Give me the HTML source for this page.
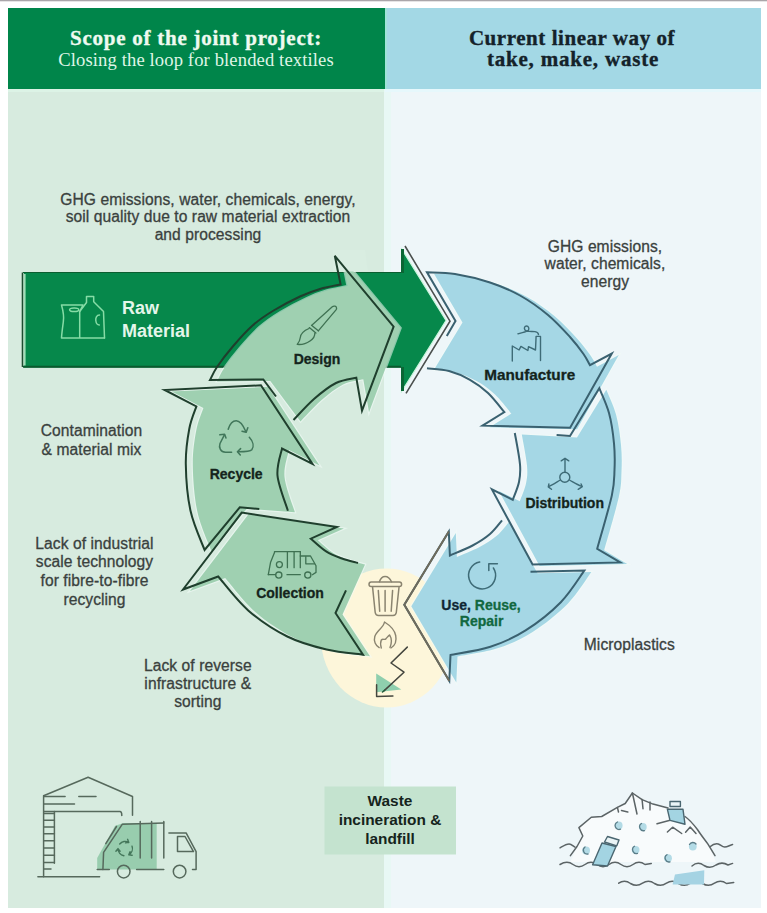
<!DOCTYPE html>
<html><head><meta charset="utf-8"><style>
html,body{margin:0;padding:0;background:#fff;width:767px;height:913px;overflow:hidden}
svg{display:block}
.t{font-family:'Liberation Sans',sans-serif;font-size:15.6px;letter-spacing:0.07px;fill:#3a413e;stroke:#3a413e;stroke-width:0.3px}
.lb{font-family:'Liberation Sans',sans-serif;font-size:14px;font-weight:bold;fill:#14241c;stroke:currentColor;stroke-width:0.3px;color:#14241c}
</style></head><body>
<svg width="767" height="913" viewBox="0 0 767 913">
<rect x="0" y="0" width="767" height="1.3" fill="#aaa6aa"/>
<!-- panels -->
<rect x="8" y="8" width="376" height="900" fill="#d7ebdf"/>
<rect x="384" y="8" width="377" height="900" fill="#eef6f9"/>
<rect x="384" y="89" width="7" height="819" fill="#e8f8f5"/>
<rect x="8" y="8" width="377" height="81" fill="#00854a"/>
<rect x="385" y="8" width="376" height="81" fill="#a3d8e5"/>
<rect x="385" y="8" width="2" height="81" fill="#9fe3d8"/>
<rect x="8" y="89" width="376" height="3" fill="#dcf3e6"/>
<rect x="385" y="89" width="376" height="3" fill="#e6f8fc"/>
<!-- header text -->
<text x="196" y="45" text-anchor="middle" style="font-family:'Liberation Serif',serif;font-weight:bold;font-size:21px;letter-spacing:0.75px;stroke:#eefaf0;stroke-width:0.35px" fill="#eefaf0">Scope of the joint project:</text>
<text x="196" y="66" text-anchor="middle" style="font-family:'Liberation Serif',serif;font-size:18.6px;letter-spacing:0.12px" fill="#dff5e6">Closing the loop for blended textiles</text>
<text x="572" y="44.5" text-anchor="middle" style="font-family:'Liberation Serif',serif;font-weight:bold;font-size:21px;letter-spacing:0.55px;stroke:#14222a;stroke-width:0.35px" fill="#14222a">Current linear way of</text>
<text x="573" y="66" text-anchor="middle" style="font-family:'Liberation Serif',serif;font-weight:bold;font-size:21px;letter-spacing:0.8px;stroke:#14222a;stroke-width:0.35px" fill="#14222a">take, make, waste</text>
<!-- side texts -->
<g class="t" text-anchor="middle">
<text x="208" y="204.6" class="t">GHG emissions, water, chemicals, energy,</text>
<text x="208" y="222.2" class="t">soil quality due to raw material extraction</text>
<text x="208" y="240.2" class="t">and processing</text>
<text x="91.5" y="435.8" class="t">Contamination</text>
<text x="91.5" y="454.6" class="t">&amp; material mix</text>
<text x="94.5" y="548.5" class="t">Lack of industrial</text>
<text x="94.5" y="567.2" class="t">scale technology</text>
<text x="94.5" y="586" class="t">for fibre-to-fibre</text>
<text x="94.5" y="604.8" class="t">recycling</text>
<text x="197.8" y="670.5" class="t">Lack of reverse</text>
<text x="197.8" y="688.6" class="t">infrastructure &amp;</text>
<text x="197.8" y="706.6" class="t">sorting</text>
<text x="605" y="251.7" class="t">GHG emissions,</text>
<text x="605" y="269.3" class="t">water, chemicals,</text>
<text x="605" y="286.9" class="t">energy</text>
<text x="629.3" y="650" class="t">Microplastics</text>
</g>
<!-- yellow circle -->
<ellipse cx="386.5" cy="638" rx="65.5" ry="69.5" fill="#fdf6da"/>
<!-- raw material arrow -->
<path d="M24,273 L401,273 L401,248 L446,320.5 L401,392.5 L401,367.5 L24,367.5 Z" fill="#06884b"/>
<path d="M22.5,272.5 L22.5,367" fill="none" stroke="#1d4d30" stroke-width="1.6"/>
<path d="M23,272.5 L401,272.5" fill="none" stroke="#0b5e30" stroke-width="1.2"/>
<path d="M23,366.7 L401,366.7" fill="none" stroke="#0a5a2e" stroke-width="2"/>
<path d="M24.7,274 L24.7,365.5" fill="none" stroke="#9fe0b8" stroke-width="1.8"/>
<path d="M405,246 L450,321.2 L406,393.3" fill="none" stroke="#4a4f4d" stroke-width="1.6"/>
<path d="M401,248 L446,320.5 L401,392.5" fill="none" stroke="#c8f5da" stroke-width="1.2"/>
<path d="M402.5,249 L402.5,273 M402.5,367 L402.5,391" stroke="#0a6634" stroke-width="3"/>
<text x="122" y="313.5" style="font-family:'Liberation Sans',sans-serif;font-weight:bold;font-size:18px" fill="#e4f6ea">Raw</text>
<text x="122" y="337" style="font-family:'Liberation Sans',sans-serif;font-weight:bold;font-size:18px" fill="#e4f6ea">Material</text>
<!-- cycle arrows -->
<path d="M210.0,380.0 C211.2,377.8 213.2,372.6 217.0,367.0 C220.8,361.4 226.9,353.4 232.8,346.5 C238.7,339.6 245.8,331.5 252.6,325.5 C259.4,319.5 265.7,315.3 273.6,310.5 C281.5,305.7 292.3,300.1 300.0,296.5 C307.7,292.9 313.2,291.0 320.0,289.0 C326.8,287.0 337.2,285.2 340.6,284.5 L334.8,255.8 L393.6,326.6 L362.0,410.7 L356.3,377.7 C352.9,378.6 343.1,379.4 336.0,383.0 C328.9,386.6 321.1,392.8 314.0,399.0 C306.9,405.2 296.9,416.5 293.5,420.0 L263.3,379.4 Z" transform="translate(7,1.5)" fill="#9fd0b1" stroke="#f2fbf7" stroke-opacity="0.55" stroke-width="2.4" paint-order="stroke"/>
<path d="M164.7,390.0 L260.9,385.3 L312.5,463.9 L282.0,448.6 C281.2,453.1 276.5,465.2 277.5,475.6 C278.5,486.0 286.2,504.9 287.9,510.8 L239.8,507.3 L204.6,550.0 C202.2,543.5 193.6,525.1 190.5,510.8 C187.4,496.4 186.0,477.6 185.8,463.9 C185.6,450.2 187.5,438.3 189.3,428.7 C191.1,419.1 195.2,410.1 196.4,406.4 Z" transform="translate(7,1.5)" fill="#9fd0b1" stroke="#f2fbf7" stroke-opacity="0.55" stroke-width="2.4" paint-order="stroke"/>
<path d="M241.7,512.6 L336.9,527.0 L310.8,538.7 C313.4,540.9 321.3,548.4 326.5,551.7 C331.7,555.0 336.8,556.6 342.0,558.5 C347.2,560.4 355.3,562.2 358.0,563.0 L335.5,613.0 L363.0,654.7 C356.9,653.8 339.1,652.5 326.5,649.5 C313.9,646.5 300.4,643.0 287.3,636.5 C274.2,630.0 259.7,620.4 248.2,610.4 C236.7,600.4 223.2,582.1 218.2,576.5 L183.0,589.5 Z" transform="translate(7,1.5)" fill="#9fd0b1" stroke="#f2fbf7" stroke-opacity="0.55" stroke-width="2.4" paint-order="stroke"/>
<path d="M427.0,272.3 C431.7,272.6 444.5,272.3 455.0,274.0 C465.5,275.7 479.2,278.9 490.0,282.5 C500.8,286.1 510.3,290.1 520.0,295.5 C529.7,300.9 539.7,308.1 548.0,315.0 C556.3,321.9 564.1,330.5 570.0,337.0 C575.9,343.5 580.2,349.3 583.5,354.0 C586.8,358.7 588.9,363.3 590.0,365.2 L611.8,353.5 L570.1,427.8 L482.5,425.7 L504.4,412.1 C501.7,408.9 493.7,398.4 488.0,393.0 C482.3,387.6 476.5,383.5 470.0,379.8 C463.5,376.1 456.2,372.9 449.0,371.0 C441.8,369.1 430.7,368.8 427.0,368.3 L455.5,321.0 Z" transform="translate(7,1.5)" fill="#a5d7e5" stroke="#f2fbf7" stroke-opacity="0.55" stroke-width="2.4" paint-order="stroke"/>
<path d="M584.3,570.6 C580.4,575.9 570.6,592.2 560.8,602.2 C551.0,612.2 537.3,623.0 525.6,630.4 C513.9,637.8 502.9,642.7 490.4,646.8 C477.9,650.9 457.1,653.6 450.5,655.0 L449.3,680.9 L404.3,604.7 L448.8,531.5 L449.9,555.5 C453.7,553.8 465.9,549.1 472.6,545.5 C479.3,541.9 485.1,538.2 490.0,534.0 C494.9,529.8 500.0,522.7 502.0,520.4 L530.5,571.8 Z" transform="translate(7,1.5)" fill="#a5d7e5" stroke="#f2fbf7" stroke-opacity="0.55" stroke-width="2.4" paint-order="stroke"/>
<path d="M599.3,388.2 C600.9,392.3 606.5,403.8 609.0,413.0 C611.5,422.2 613.1,433.9 614.0,443.4 C614.9,452.9 614.9,461.3 614.5,470.0 C614.1,478.7 614.7,482.5 611.8,495.6 C608.9,508.7 599.6,539.9 597.2,548.8 L620.2,562.4 L532.6,564.5 L491.9,489.4 L512.8,499.8 C513.8,496.8 517.8,487.9 519.0,482.0 C520.2,476.1 520.7,472.5 520.0,464.3 C519.3,456.1 515.7,438.2 514.8,433.0 L570.0,436.0 Z" transform="translate(7,1.5)" fill="#a5d7e5" stroke="#f2fbf7" stroke-opacity="0.55" stroke-width="2.4" paint-order="stroke"/>
<path d="M333,250 L365,250 L368,271.6 L333,271.6 Z" fill="#d9ede1"/>
<path d="M276,396.5 L263.3,379.4 L210,380 C211.2,377.8 213.2,372.6 217.0,367.0 C220.8,361.4 226.9,353.4 232.8,346.5 C238.7,339.6 245.8,331.5 252.6,325.5 C259.4,319.5 265.7,315.3 273.6,310.5 C281.5,305.7 292.3,300.1 300.0,296.5 C307.7,292.9 313.2,291.0 320.0,289.0 C326.8,287.0 337.2,285.2 340.6,284.5 L334.8,255.8 L393.6,326.6 L362.0,410.7 L356.3,377.7 C352.9,378.6 343.1,379.4 336.0,383.0 C328.9,386.6 321.1,392.8 314.0,399.0 C306.9,405.2 296.9,416.5 293.5,420.0 " fill="none" stroke="#1f3f2d" stroke-width="2" stroke-linejoin="miter"/>
<path d="M259.3,509.1 L239.8,507.3 L204.6,550.0 C202.2,543.5 193.6,525.1 190.5,510.8 C187.4,496.4 186.0,477.6 185.8,463.9 C185.6,450.2 187.5,438.3 189.3,428.7 C191.1,419.1 195.2,410.1 196.4,406.4 L164.7,390.0 L260.9,385.3 L312.5,463.9 L282.0,448.6 C281.2,453.1 276.5,465.2 277.5,475.6 C278.5,486.0 286.2,504.9 287.9,510.8" fill="none" stroke="#1f3f2d" stroke-width="2" stroke-linejoin="miter"/>
<path d="M346,590.4 L335.5,613.0 L363.0,654.7 C356.9,653.8 339.1,652.5 326.5,649.5 C313.9,646.5 300.4,643.0 287.3,636.5 C274.2,630.0 259.7,620.4 248.2,610.4 C236.7,600.4 223.2,582.1 218.2,576.5 L183.0,589.5 L241.7,512.6 L336.9,527.0 L310.8,538.7 C313.4,540.9 321.3,548.4 326.5,551.7 C331.7,555.0 336.8,556.6 342.0,558.5 C347.2,560.4 355.3,562.2 358.0,563.0 " fill="none" stroke="#1f3f2d" stroke-width="2" stroke-linejoin="miter"/>
<path d="M446.8,336 L455.5,321 L427,272.3 C431.7,272.6 444.5,272.3 455.0,274.0 C465.5,275.7 479.2,278.9 490.0,282.5 C500.8,286.1 510.3,290.1 520.0,295.5 C529.7,300.9 539.7,308.1 548.0,315.0 C556.3,321.9 564.1,330.5 570.0,337.0 C575.9,343.5 580.2,349.3 583.5,354.0 C586.8,358.7 588.9,363.3 590.0,365.2 L611.8,353.5 L570.1,427.8 L482.5,425.7 L504.4,412.1 C501.7,408.9 493.7,398.4 488.0,393.0 C482.3,387.6 476.5,383.5 470.0,379.8 C463.5,376.1 456.2,372.9 449.0,371.0 C441.8,369.1 430.7,368.8 427.0,368.3 " fill="none" stroke="#3a6170" stroke-width="2" stroke-linejoin="miter"/>
<path d="M530.5,571.8 L584.3,570.6 C580.4,575.9 570.6,592.2 560.8,602.2 C551.0,612.2 537.3,623.0 525.6,630.4 C513.9,637.8 502.9,642.7 490.4,646.8 C477.9,650.9 457.1,653.6 450.5,655.0 L449.3,680.9 L404.3,604.7 L448.8,531.5 L449.9,555.5 C453.7,553.8 465.9,549.1 472.6,545.5 C479.3,541.9 485.1,538.2 490.0,534.0 C494.9,529.8 500.0,522.7 502.0,520.4 " fill="none" stroke="#3a6170" stroke-width="2" stroke-linejoin="miter"/>
<path d="M556.6,435.1 L570,436 L599.3,388.2 C600.9,392.3 606.5,403.8 609.0,413.0 C611.5,422.2 613.1,433.9 614.0,443.4 C614.9,452.9 614.9,461.3 614.5,470.0 C614.1,478.7 614.7,482.5 611.8,495.6 C608.9,508.7 599.6,539.9 597.2,548.8 L620.2,562.4 L532.6,564.5 L491.9,489.4 L512.8,499.8 C513.8,496.8 517.8,487.9 519.0,482.0 C520.2,476.1 520.7,472.5 520.0,464.3 C519.3,456.1 515.7,438.2 514.8,433.0" fill="none" stroke="#3a6170" stroke-width="2" stroke-linejoin="miter"/>

<!-- icons -->
<g fill="none" stroke-linecap="round" stroke-linejoin="round">
<!-- raw material bag+bottle -->
<g stroke="#86dca6" stroke-width="1.5">
<path d="M61.5,305 L83,305 M61.5,305 C63.5,312 64,318 63.3,322 C62.5,328 61.8,333 61.5,338 L104.5,338 M83,305 L79.7,311.5 L79.7,338"/>
<path d="M79.7,311.5 L86.5,302.5 L86.5,296.5 L93.7,296.5 L93.7,301.8 L103.5,311.5 L104.5,338"/>
<path d="M99.5,315 C96.5,315 95.5,318 95.8,320.5 C96.2,324 97.5,325 99.3,325"/>
<ellipse cx="74.2" cy="309.8" rx="4.6" ry="1.8"/>
</g>
<!-- paintbrush -->
<g stroke="#3f7152" stroke-width="1.3">
<path d="M311.5,325.4 L332.3,306.8 C334,305.3 336.6,306.3 336.6,308.2 C336.6,309 336.3,309.4 336,309.8 L318.3,330.8"/>
<path d="M309.3,327.6 L315.9,333.1 M311.8,325.4 L318.3,330.8"/>
<path d="M309,328.5 C304,330.5 300.8,333.5 300.3,337.5 C300,340.5 299,342.5 297.2,344.4 C301.5,344.8 306.5,343.5 310,341 C313.5,338.5 315,335.5 314.8,333.2"/>
</g>
<!-- recycle symbol -->
<g stroke="#41765a" stroke-width="1.5">
<path d="M228.2,429.3 C230,423.5 233,420.8 236.2,420.8 C240,420.8 243,425 245.8,431.5"/>
<path d="M242,431.2 L246.2,432.3 L247.8,427.8"/>
<path d="M249.3,437.3 C253.2,441.5 254.2,446.5 251.8,449.8 C250.3,451.6 246.5,451.8 238.3,451.8"/>
<path d="M240.6,448.6 L237.4,451.8 L240.3,455"/>
<path d="M231.6,452.2 L225.5,452.2 C220.5,452 218.6,447.5 220,443.5 L224.4,434.8"/>
<path d="M219.8,434.8 L224.6,434.2 L226,438"/>
</g>
<!-- factory -->
<g stroke="#3e6b77" stroke-width="1.4">
<path d="M512.3,361 L512.3,346 L519.1,350 L520.9,346.4 L527.9,350.5 L528.5,346.7 L535.5,350 L536.1,336.4 L540.5,336.4 L540.5,360.5"/>
<path d="M517.9,333.8 C521.5,332.4 526.5,332.3 528.3,330.3 C529.6,328.7 528.4,326 526.6,326 C524.6,326 523.7,328.2 525,330 C526.8,332 532,331.2 535,331.6 C537,332 538.4,333.4 538.5,334.6"/>
</g>
<!-- distribution -->
<g stroke="#3e6b77" stroke-width="1.4">
<circle cx="564.8" cy="477.2" r="5"/>
<path d="M565,472.2 L565,458.6 M561.2,460.8 L565,458.3 L568.8,460.8"/>
<path d="M560.3,480 C556,482.5 552,485 548.6,486.6 M548.9,484 L548.3,486.9 L551.5,489.3"/>
<path d="M569.5,480 C574,482.5 578,485 582.3,486.6 M581.1,484 L582.3,486.7 L578.2,489.3"/>
</g>
<!-- use: circular arrow -->
<g stroke="#3e6b77" stroke-width="1.5">
<path d="M479.7,562.1 A13.5,13.5 0 1 0 493.4,568"/>
<path d="M488.8,570.6 L488.8,563.8 L497.4,563.8"/>
</g>
<!-- collection truck -->
<g stroke="#3f7152" stroke-width="1.3">
<path d="M268.3,574.7 L270.6,562.2 L274.5,552.4 L274.5,551.7 L300.3,551.7"/>
<path d="M287.4,551.7 L287.4,567.7 M294.1,551.7 L294.1,567.7 M300.3,551.7 L300.3,567.7"/>
<path d="M300.3,556 L310.5,556 L316,565.7 L316,572.4 L312.4,574.7"/>
<path d="M305.8,556.7 L305.8,563.8 L314.5,563.8"/>
<circle cx="278.8" cy="575.1" r="3.1"/><circle cx="307.8" cy="575.1" r="3.1"/>
<path d="M287,574.7 L300.3,574.7 M268.3,574.7 L275.5,574.7"/>
<circle cx="279.4" cy="564.6" r="3"/>
</g>
<!-- trash can -->
<g stroke="#8a8470" stroke-width="1.5">
<path d="M371.2,581.9 L399.4,581.9 C400.8,581.9 401.6,582.9 401.6,584.2 C401.6,585.6 400.8,586.5 399.4,586.5 L371.2,586.5 C369.8,586.5 369,585.6 369,584.2 C369,582.9 369.8,581.9 371.2,581.9 Z"/>
<path d="M379.4,581.8 C380.5,578.5 382.5,576.6 385.1,576.6 C387.8,576.6 390,578.5 391.5,581.8"/>
<path d="M372.6,587.3 L375.2,612.5 C375.5,614.5 376.5,615.5 378.5,615.5 L393,615.5 C395,615.5 396,614.5 396.3,612.5 L399,587.3"/>
<path d="M378.3,590.4 L379.7,611.2 M385.1,590.4 L385.1,611.2 M392.6,590.4 L391.2,611.2"/>
</g>
<!-- flame -->
<g stroke="#8a8470" stroke-width="1.4">
<path d="M379.2,647.6 C375.5,645.5 373.5,641 374.8,636.5 C376.5,630.5 383.5,628 384.5,622 C388.5,624.5 394.5,629 395.7,635.5 C396.8,641 395,645.5 391,648"/>
<path d="M381.3,648 C380.5,645 380.4,642 381.3,640 C383,638.2 384.5,640.5 386,638.7 C387.5,637 388.5,635.6 389.7,635 C391.5,638 391.8,643 390,647.6"/>
</g>
<!-- zigzag + triangle -->
<path d="M376.2,673.6 L376.2,692.2 L401.3,689.5 Z" fill="#8fcfae" stroke="none"/>
<path d="M407.3,647.1 L391,663 L404,672.2 L384.5,690.4" stroke="#44463e" stroke-width="1.5"/>
<path d="M384.5,690.4 L382.5,692" stroke="#1f5a3a" stroke-width="1.6"/>
<path d="M376.6,684.8 L376.6,696.6 L392.9,696" stroke="#44463e" stroke-width="1.5"/>
</g>

<path d="M448.8,531.5 L404.3,604.7 L449.3,680.9" fill="none" stroke="#6f6b5c" stroke-width="1.9"/>
<!-- labels -->
<g class="lb" text-anchor="middle">
<text x="317" y="364" class="lb">Design</text>
<text x="236.2" y="479.1" class="lb">Recycle</text>
<text x="290" y="598.1" class="lb">Collection</text>
<text x="529.7" y="380" class="lb" style="font-size:15.3px">Manufacture</text>
<text x="564.7" y="507.7" class="lb">Distribution</text>
<text x="481" y="610.4" class="lb" style="fill:#0f2633;color:#0f2633">Use, <tspan style="fill:#11683f;color:#11683f">Reuse,</tspan></text>
<text x="481.6" y="626" class="lb" style="fill:#11683f;color:#11683f">Repair</text>
</g>

<!-- bottom-left building + truck -->
<g fill="none" stroke="#56695c" stroke-width="1.5" stroke-linecap="round" stroke-linejoin="round">
<path d="M43.6,876.8 L43.6,795.8 L88.1,777.2 L132.5,796.5 L132.5,815.2"/>
<path d="M37.9,876.8 L99.6,876.8"/>
<path d="M44,796.5 L65.1,796.5 M78.8,796.5 L96,796.5 M44,804 L74.5,804"/>
<path d="M44,811.6 L120,811.6 C121.2,811.6 121.8,812.6 121.8,815.5"/>
<path d="M54.4,811.6 L54.4,863.2"/>
<path d="M44,813.5 L54.4,813.5 M44,820.2 L54.4,820.2 M44,827.1 L54.4,827.1 M44,833.8 L54.4,833.8 M44,840.8 L54.4,840.8 M44,848 L54.4,848 M44,855.2 L54.4,855.2 M44,862.5 L54.4,862.5 M44,869 L51,869"/>
</g>
<path d="M97.2,869.5 L97.2,858 L115.1,825.8 L123.7,822.9 L156.7,822.9 L156.7,869.5 Z" fill="#98cdae"/>
<g fill="none" stroke="#56695c" stroke-width="1.5" stroke-linecap="round" stroke-linejoin="round">
<path d="M102.9,869.5 L103.6,852.3 L122.2,824.3 L163.8,822.9"/>
<path d="M105.8,843.7 L116.5,826.5"/>
<path d="M140.2,821.5 L140.2,858 M151.6,821.5 L151.6,858 M163.8,821.5 L163.8,858"/>
<path d="M168.9,832.9 L186.1,832.9 L196.1,851.6 L196.1,869.5 L192.5,869.5"/>
<path d="M177.5,836.5 L185,836.5 L193.5,851.6 L177.5,851.6 Z"/>
<circle cx="123.7" cy="871.6" r="6.3"/><circle cx="179.6" cy="871.6" r="6.3"/>
<path d="M136.6,869.5 L163.8,869.5 M97.2,869.5 L109.3,869.5"/>
</g>
<g fill="none" stroke="#44765a" stroke-width="1.4" stroke-linecap="round" stroke-linejoin="round">
<path d="M119.7,844.0 A7.2,7.2 0 0 1 128.8,842.4 M127.6,839.3 L128.8,842.4 L125.5,842.9 M132.0,846.1 A7.2,7.2 0 0 1 128.8,854.8 M132.1,855.3 L128.8,854.8 L130.0,851.7 M123.9,855.7 A7.2,7.2 0 0 1 118.0,848.6 M115.9,851.2 L118.0,848.6 L120.1,851.2"/>
</g>
<!-- bottom-right waste heap -->
<path d="M570.4,862 L577,846.5 L582.8,836 L578.9,827.6 L591.3,817.2 L601.7,816.5 L617.4,807.4 L625.2,803.5 L632.4,793 L642.1,799.6 L653,804.1 L668,808 L685,816.5 C690,820 694,825 697.4,829.5 C701,835 705,840 707.8,843.9 L716,862 Z" fill="#f8fbfc"/>
<g fill="none" stroke="#5c6466" stroke-width="1.5" stroke-linecap="round" stroke-linejoin="round">
<path d="M570.4,855.6 L577,846.5 L582.8,836 L578.9,827.6 L591.3,817.2 L601.7,816.5 L617.4,807.4 L625.2,803.5 L632.4,793 L642.1,799.6 L653,804.1 L668,808"/>
<path d="M685,816.5 C690,820 694,825 697.4,829.5 C701,835 705,840 707.8,843.9 L715,855.6"/>
<path d="M617.4,807.4 L618.5,812 M621.5,810.6 L627.8,812 M632.4,793 L637,814 M642.1,799.6 L643,808.7 M650,802 L650,810"/>
<path d="M657,823.7 L671,820 M667.4,832 L672.6,827.2 L681.7,833.5 M685.6,832.2 L690.2,827 L696,833.5"/>
<path d="M560,847.8 C563,846 566,843.9 569.1,843.9 C571.5,843.9 573,846 575,847.1"/>
<path d="M560,864.5 C565,861.5 569,861.5 573,864.5 C577,867.5 581,867.5 585,864.5 C589,861.5 593,861.5 597,864.5 C601,867.5 605,867.5 609,864.5 C613,861.5 617,861.5 621,864.5 C625,867.5 629,867.5 633,864.5 C637,861.5 641,861.5 645,864.5 L651.3,863.4"/>
<path d="M692,866 C696,862.5 700,862.5 704,865.5 C708,868 712,868 716,865 C720,862.5 724,862.5 728,865 L732.6,863.4"/>
<path d="M710.4,846.5 C713,844 716,843.5 718.2,843.9 C720.5,844.5 722,847 724.7,847.1 C727.5,847 730,845 732.6,844.5"/>
<path d="M618.7,883.2 C622.5,880.5 626.5,880.5 630.5,883.5 C634.5,886 638.5,886 642.5,883.2 C646.5,880.5 650.5,880.5 654.5,883.5 C658.5,886 662.5,886 666.5,883.2 C670.5,880.5 674.5,880.5 678.5,883.5 C682.5,886 686.5,886 690.5,883.2 C694.5,880.5 698.5,880.5 702.5,883.5 C706.5,886 710.5,886 714.5,883.2 C718.5,880.5 722.5,880.5 726.5,883.5 L733.7,882.5"/>
</g>
<!-- bottles -->
<g stroke="#4a6670" stroke-width="1.4" stroke-linejoin="round">
<path d="M667.4,809.3 L683,809.3 L685,824.3 L670,820.4 Z" fill="#a3d4e2"/>
<path d="M670,801.5 L680.4,801.5 L680.4,806.5 L670,806.5 Z" fill="#eaf4f6"/>
<path d="M592.6,864.7 L602,843 L616,846.5 L607.5,866 Z" fill="#a3d4e2"/>
<path d="M604.5,842 L607.5,836.5 L619,840 L616.8,845.8 Z" fill="#eaf4f6"/>
</g>
<path d="M672.6,884.4 L675,874.5 L704.3,870.3 L704,884.4 Z" fill="#a5d3e3"/>
<!-- dots -->
<g fill="#b3dbe6">
<circle cx="618.7" cy="825.5" r="3.9"/><circle cx="642.8" cy="827" r="3.9"/><circle cx="586.1" cy="850.4" r="3.9"/>
<circle cx="635.6" cy="849.8" r="3.9"/><circle cx="692.8" cy="846.5" r="3.9"/><circle cx="668" cy="858.2" r="3.9"/>
</g>
<g fill="none" stroke="#5b7d88" stroke-width="1.3" stroke-linecap="round">
<path d="M617.5,822 A3.9,3.9 0 0 0 620.5,829.2"/><path d="M641.5,823.5 A3.9,3.9 0 0 0 644.5,830.6"/><path d="M585,847 A3.9,3.9 0 0 0 588,854"/>
<path d="M634.5,846.3 A3.9,3.9 0 0 0 637.5,853.4"/><path d="M696,844 A3.9,3.9 0 0 0 689.5,844.5"/><path d="M667,854.7 A3.9,3.9 0 0 0 670,861.8"/>
</g>

<!-- waste box -->
<rect x="324.5" y="786.5" width="131.5" height="68" fill="#c4e3cf"/>
<g style="font-family:'Liberation Sans',sans-serif;font-weight:bold;font-size:15.4px" fill="#15241c" text-anchor="middle">
<text x="390" y="805.8">Waste</text>
<text x="390" y="825.2">incineration &amp;</text>
<text x="390" y="844">landfill</text>
</g>
</svg>
</body></html>
